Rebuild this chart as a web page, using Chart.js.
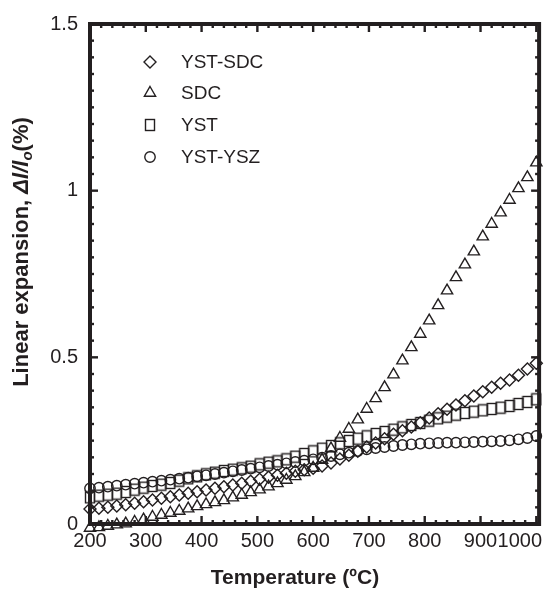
<!DOCTYPE html>
<html>
<head>
<meta charset="utf-8">
<script src="https://cdn.jsdelivr.net/npm/chart.js@4.4.0/dist/chart.umd.min.js"></script>
<style>
  html, body { margin: 0; padding: 0; background: #fff; }
</style>
</head>
<body>
<canvas id="grafico" width="547" height="589"></canvas>
<script>
// temperatura (ºC) de cada punto
var temperaturas = [200, 216, 232, 248, 264, 280, 296, 312, 328, 344,
    360, 376, 392, 408, 424, 440, 456, 472, 488, 504,
    520, 536, 552, 568, 584, 600, 616, 632, 648, 664,
    680, 696, 712, 728, 744, 760, 776, 792, 808, 824,
    840, 856, 872, 888, 904, 920, 936, 952, 968, 984, 1000];

// dilatacion lineal (%)
var ystSdc = [0.045, 0.047, 0.050, 0.054, 0.058, 0.062, 0.067, 0.072, 0.077, 0.082,
    0.087, 0.092, 0.097, 0.102, 0.107, 0.112, 0.117, 0.122, 0.128, 0.134,
    0.140, 0.146, 0.152, 0.158, 0.163, 0.167, 0.174, 0.183, 0.195, 0.206,
    0.218, 0.231, 0.243, 0.256, 0.269, 0.280, 0.291, 0.304, 0.318, 0.331,
    0.344, 0.357, 0.370, 0.384, 0.397, 0.410, 0.422, 0.432, 0.446, 0.465, 0.482];

var sdc = [-0.012, -0.010, -0.006, -0.002, 0.001, 0.006, 0.013, 0.021, 0.027, 0.033,
    0.039, 0.046, 0.053, 0.059, 0.065, 0.071, 0.079, 0.087, 0.095, 0.103,
    0.112, 0.122, 0.132, 0.143, 0.155, 0.168, 0.192, 0.226, 0.258, 0.285,
    0.313, 0.345, 0.377, 0.410, 0.448, 0.490, 0.530, 0.570, 0.610, 0.656,
    0.700, 0.740, 0.778, 0.817, 0.862, 0.900, 0.934, 0.972, 1.007, 1.040, 1.084];

var yst = [0.080, 0.085, 0.088, 0.091, 0.096, 0.103, 0.109, 0.114, 0.118, 0.123,
    0.130, 0.137, 0.143, 0.149, 0.154, 0.159, 0.163, 0.167, 0.172, 0.179,
    0.184, 0.188, 0.194, 0.202, 0.210, 0.218, 0.226, 0.234, 0.242, 0.249,
    0.256, 0.263, 0.270, 0.276, 0.283, 0.290, 0.297, 0.303, 0.310, 0.317,
    0.322, 0.328, 0.333, 0.337, 0.341, 0.345, 0.349, 0.354, 0.360, 0.366, 0.374];

var ystYsz = [0.107, 0.109, 0.112, 0.115, 0.118, 0.121, 0.124, 0.127, 0.130, 0.133,
    0.136, 0.139, 0.143, 0.146, 0.150, 0.154, 0.158, 0.162, 0.166, 0.170,
    0.174, 0.178, 0.182, 0.186, 0.190, 0.194, 0.199, 0.204, 0.209, 0.214,
    0.219, 0.224, 0.228, 0.231, 0.234, 0.237, 0.239, 0.241, 0.242, 0.243,
    0.244, 0.244, 0.245, 0.246, 0.247, 0.248, 0.249, 0.251, 0.254, 0.258, 0.264];

var ticksX = [200, 300, 400, 500, 600, 700, 800, 900, 1000];
var ticksY = [0, 0.5, 1, 1.5];

var tinta = '#231f20';
var fuente = '"Liberation Sans", Arial, sans-serif';

// cuadrado algo alto, como en la figura original
var cuadro = document.createElement('canvas');
cuadro.width = 12;
cuadro.height = 14;
(function () {
    var c = cuadro.getContext('2d');
    c.strokeStyle = tinta;
    c.lineWidth = 1.4;
    c.strokeRect(1.5, 1.5, 9, 11);
})();

function puntos(valores) {
    var out = [];
    for (let i = 0; i < temperaturas.length; i++) {
        out.push({ x: temperaturas[i], y: valores[i] });
    }
    return out;
}

function serie(label, valores, estilo, radio) {
    return {
        label: label,
        data: puntos(valores),
        pointStyle: estilo,
        pointRadius: radio,
        pointHoverRadius: radio,
        pointBorderWidth: 1.4,
        borderColor: tinta,
        backgroundColor: 'rgba(0,0,0,0)',
        showLine: false,
        clip: false
    };
}

// marco grueso, marcas hacia dentro, etiquetas del eje x, titulos y leyenda
var marco = {
    id: 'marco',
    afterDatasetsDraw: function (chart) {
        var ctx = chart.ctx, a = chart.chartArea;
        var sx = chart.scales.x, sy = chart.scales.y;
        ctx.save();
        ctx.fillStyle = tinta;

        for (let v = 200; v <= 1000; v += 20) {
            let px = sx.getPixelForValue(v);
            let len = (v % 100 === 0) ? 8 : 4;
            ctx.fillRect(px - 1.2, a.bottom - len, 2.4, len);
            ctx.fillRect(px - 1.2, a.top, 2.4, len);
        }
        for (let i = 0; i <= 30; i++) {
            let py = sy.getPixelForValue(i * 0.05);
            let len = (i % 10 === 0) ? 8 : 4;
            ctx.fillRect(a.left, py - 1.2, len, 2.4);
            ctx.fillRect(a.right - len, py - 1.2, len, 2.4);
        }

        ctx.lineWidth = 4;
        ctx.strokeStyle = tinta;
        ctx.strokeRect(a.left, a.top, a.right - a.left, a.bottom - a.top);

        // etiquetas eje x
        ctx.font = '20px ' + fuente;
        ctx.textBaseline = 'middle';
        for (let i = 0; i < ticksX.length; i++) {
            let px = sx.getPixelForValue(ticksX[i]);
            if (i === ticksX.length - 1) {
                ctx.textAlign = 'right';
                ctx.fillText(String(ticksX[i]), a.right + 3, 541);
            } else {
                ctx.textAlign = 'center';
                ctx.fillText(String(ticksX[i]), px, 541);
            }
        }

        // titulo eje x
        ctx.font = 'bold 21px ' + fuente;
        ctx.textAlign = 'center';
        ctx.fillText('Temperature (ºC)', 295, 578);

        // titulo eje y, con cursiva y subindice
        var partes = [
            { t: 'Linear expansion, ', f: 'bold 22px ' + fuente, dy: 0 },
            { t: 'Δl/l', f: 'italic bold 22px ' + fuente, dy: 0 },
            { t: 'o', f: 'italic bold 15px ' + fuente, dy: 6 },
            { t: '(%)', f: 'bold 22px ' + fuente, dy: 0 }
        ];
        var total = 0;
        partes.forEach(function (p) { ctx.font = p.f; total += ctx.measureText(p.t).width; });
        ctx.translate(22, 252);
        ctx.rotate(-Math.PI / 2);
        ctx.textAlign = 'left';
        var x0 = -total / 2;
        partes.forEach(function (p) {
            ctx.font = p.f;
            ctx.fillText(p.t, x0, p.dy);
            x0 += ctx.measureText(p.t).width;
        });
        ctx.setTransform(1, 0, 0, 1, 0, 0);

        // leyenda
        var ys = [62, 93, 125, 157];
        chart.data.datasets.forEach(function (ds, i) {
            ctx.strokeStyle = tinta;
            ctx.fillStyle = 'rgba(0,0,0,0)';
            ctx.lineWidth = 1.4;
            Chart.helpers.drawPoint(ctx, {
                pointStyle: ds.pointStyle, radius: ds.pointRadius, rotation: 0, borderWidth: 1.4
            }, 150, ys[i]);
            ctx.fillStyle = tinta;
            ctx.font = '19px ' + fuente;
            ctx.textAlign = 'left';
            ctx.textBaseline = 'middle';
            ctx.fillText(ds.label, 181, ys[i] + 1);
        });
        ctx.restore();
    }
};

var grafico = new Chart(document.getElementById('grafico').getContext('2d'), {
    type: 'scatter',
    data: {
        datasets: [
            serie('YST-SDC', ystSdc, 'rectRot', 6),
            serie('SDC', sdc, 'triangle', 6.5),
            serie('YST', yst, cuadro, 6),
            serie('YST-YSZ', ystYsz, 'circle', 5.2)
        ]
    },
    options: {
        responsive: false,
        animation: false,
        layout: { padding: { top: 24, right: 7, bottom: 0, left: 0 } },
        plugins: { legend: { display: false }, tooltip: { enabled: false } },
        scales: {
            x: {
                type: 'linear',
                min: 200,
                max: 1005,
                grid: { display: false, drawTicks: false },
                border: { display: false },
                ticks: { display: false },
                afterFit: function (s) { s.height = 65; }
            },
            y: {
                type: 'linear',
                min: 0,
                max: 1.5,
                grid: { display: false, drawTicks: false },
                border: { display: false },
                afterBuildTicks: function (s) { s.ticks = ticksY.map(function (v) { return { value: v }; }); },
                ticks: {
                    color: tinta,
                    padding: 12,
                    font: { family: fuente, size: 20 },
                    callback: function (v) { return String(v); }
                },
                afterFit: function (s) { s.width = 90; }
            }
        }
    },
    plugins: [marco]
});
</script>
</body>
</html>
